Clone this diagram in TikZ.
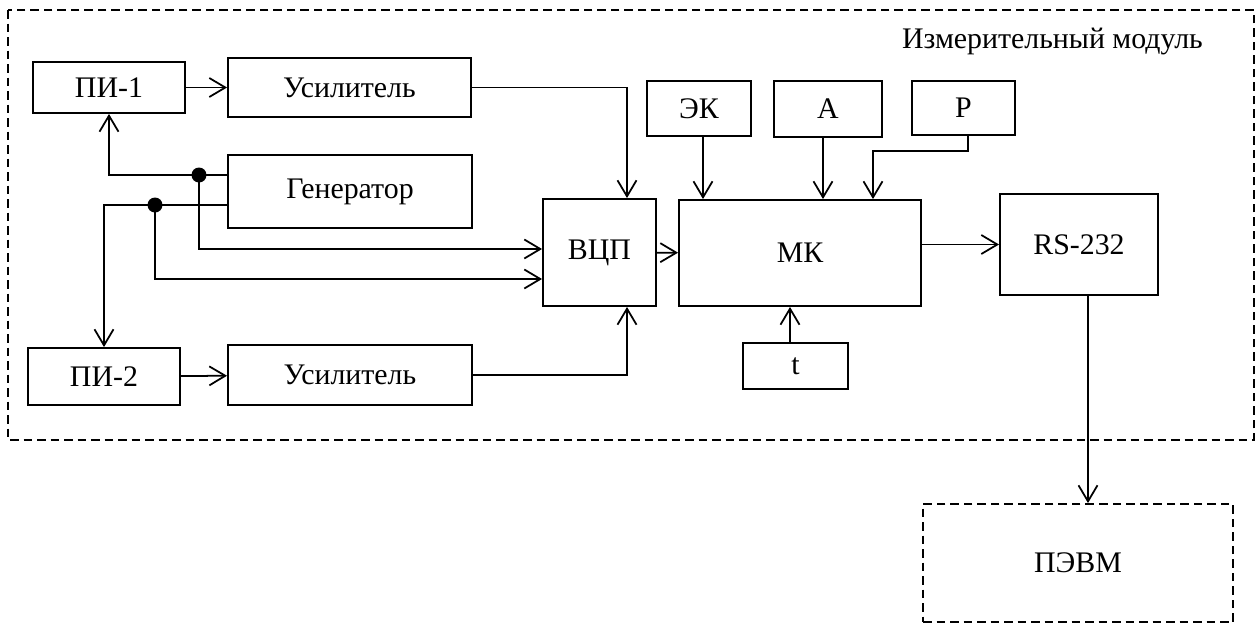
\documentclass[tikz,border=0pt]{standalone}
\usepackage{fontspec}
\setmainfont{Liberation Serif}
\usetikzlibrary{arrows.meta}

\def\dotsize{0.15cm}

\begin{document}
\begin{tikzpicture}[
    block/.style={draw, line width=1.1pt, inner sep=0pt, font=\fontsize{17}{20}\selectfont},
    outline/.style={draw, line width=1.1pt, dash pattern=on 0.17cm off 0.1cm},
    arr/.style={line width=1pt, -{Straight Barb[length=0.32cm, width=0.38cm, line width=1pt]}},
    junction/.style={fill=black}
    ]

    \useasboundingbox (0,0) rectangle (25.1,-12.52);

    % Module frame
    \draw[outline] (0.16,-0.2) rectangle (25.08,-8.8);
    \node[font=\fontsize{17}{20}\selectfont, anchor=east] (title) at (24.18,-0.82) {Измерительный модуль};

    % Define blocks
    \foreach \name/\x/\y/\w/\h/\txt in {
        pi1/2.18/-1.75/3.04/1.02/ПИ-1,
        us1/6.99/-1.75/4.86/1.18/Усилитель,
        gen/7.0/-3.83/4.88/1.46/Генератор,
        pi2/2.08/-7.53/3.04/1.14/ПИ-2,
        us2/7.0/-7.5/4.88/1.2/Усилитель,
        vcp/11.99/-5.05/2.26/2.14/ВЦП,
        mk/16.0/-5.06/4.84/2.12/МК,
        ek/13.98/-2.17/2.08/1.1/ЭК,
        a/16.56/-2.18/2.16/1.12/А,
        p/19.27/-2.16/2.06/1.08/Р,
        t/15.91/-7.32/2.1/0.92/t,
        rs/21.58/-4.89/3.16/2.02/RS-232
    }{
        \node[block, minimum width=\w cm, minimum height=\h cm] (\name) at (\x,\y) {\txt};
    }

    \node[block, dash pattern=on 0.17cm off 0.1cm, minimum width=6.2cm, minimum height=2.36cm] (pevm) at (21.56,-11.26) {ПЭВМ};

    % Generator junctions
    \coordinate (j1) at (3.98,-3.5);
    \coordinate (j2) at (3.1,-4.1);

    % Define connections
    \draw[arr] (pi1) -- (us1);
    \draw[arr] (pi2) -- (us2);
    \draw[arr] (gen.west |- j1) -- (j1) -| (pi1.south);
    \draw[arr] (gen.west |- j2) -- (j2) -| (pi2.north);
    \draw[arr] (j1) |- ([yshift=0.07cm]vcp.west);
    \draw[arr] (j2) |- ([yshift=-0.53cm]vcp.west);
    \draw[arr] (us1) -| ([xshift=0.55cm]vcp.north);
    \draw[arr] (us2) -| ([xshift=0.55cm]vcp.south);
    \draw[arr] (vcp) -- (mk);
    \draw[arr] ([xshift=0.08cm]ek.south) -- ([xshift=0.08cm]ek.south |- mk.north);
    \draw[arr] ([xshift=-0.1cm]a.south) -- ([xshift=-0.1cm]a.south |- mk.north);
    \draw[arr] ([xshift=0.09cm]p.south) |- ([xshift=1.46cm, yshift=0.96cm]mk.north) -- ([xshift=1.46cm]mk.north);
    \draw[arr] ([xshift=-0.11cm]t.north) -- ([xshift=-0.11cm]t.north |- mk.south);
    \draw[arr] (mk.east |- rs.west) -- (rs.west);
    \draw[arr] ([xshift=0.18cm]rs.south) -- ([xshift=0.18cm]rs.south |- pevm.north);

    \foreach \j in {j1, j2}
        \fill[junction] (\j) circle (\dotsize);
\end{tikzpicture}
\end{document}
